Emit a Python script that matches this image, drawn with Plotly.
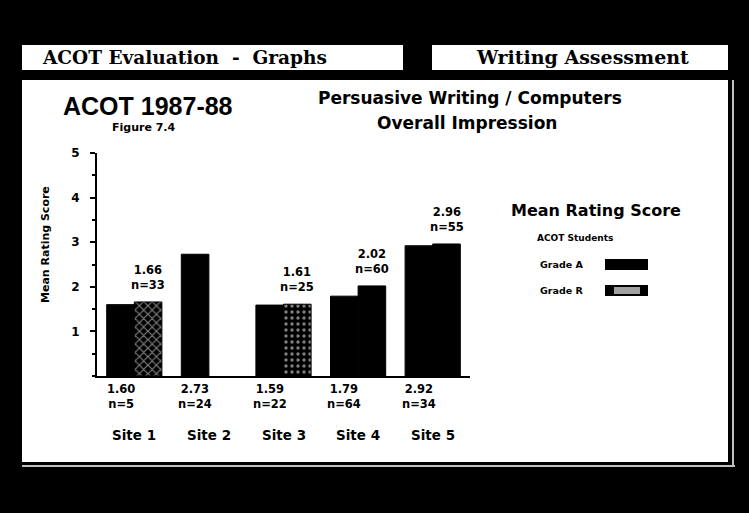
import plotly.graph_objects as go

# ---- data ----
sites = ["Site 1", "Site 2", "Site 3", "Site 4", "Site 5"]
grade_a = [1.60, 2.73, 1.59, 1.79, 2.92]
n_a = [5, 24, 22, 64, 34]
grade_r = [1.66, None, 1.61, 2.02, 2.96]
n_r = [33, None, 25, 60, 55]
y_ticks = [1, 2, 3, 4, 5]

W, H = 749, 513
L, R, T, B = 97, 470, 153, 376  # plot area in pixels


def px(x):
    return (x - L) / (R - L)


def py(y):
    return (B - y) / (B - T)


SANS = "DejaVu Sans"
SERIF = "DejaVu Serif"

fig = go.Figure()
fig.add_trace(go.Bar(
    x=sites, y=grade_a, name="Grade A",
    marker=dict(color="black", line=dict(color="black", width=1)),
))
fig.add_trace(go.Bar(
    x=sites, y=grade_r, name="Grade R",
    marker=dict(
        color="black", line=dict(color="black", width=1),
        pattern=dict(shape=["x", "", ".", "", ""],
                     bgcolor="black", fgcolor="white",
                     size=6, solidity=[0.35, 0.3, 0.25, 0.3, 0.3]),
    ),
))

shapes = []
# white panel and header boxes
shapes.append(dict(type="rect", xref="paper", yref="paper", layer="below",
                   x0=px(22), x1=px(728), y0=py(462), y1=py(80),
                   fillcolor="white", line=dict(width=0)))
shapes.append(dict(type="rect", xref="paper", yref="paper", layer="below",
                   x0=px(22), x1=px(403), y0=py(70), y1=py(45),
                   fillcolor="white", line=dict(width=0)))
shapes.append(dict(type="rect", xref="paper", yref="paper", layer="below",
                   x0=px(432), x1=px(728), y0=py(70), y1=py(45),
                   fillcolor="white", line=dict(width=0)))
# double border remnants
shapes.append(dict(type="line", xref="paper", yref="paper", layer="below",
                   x0=px(733), x1=px(733), y0=py(465), y1=py(80),
                   line=dict(color="white", width=1.5)))
shapes.append(dict(type="line", xref="paper", yref="paper", layer="below",
                   x0=px(22), x1=px(735), y0=py(466), y1=py(466),
                   line=dict(color="white", width=1.5)))
# legend swatches
shapes.append(dict(type="rect", xref="paper", yref="paper",
                   x0=px(605), x1=px(648), y0=py(270), y1=py(259),
                   fillcolor="black", line=dict(width=0)))
shapes.append(dict(type="rect", xref="paper", yref="paper",
                   x0=px(605), x1=px(648), y0=py(296), y1=py(285),
                   fillcolor="black", line=dict(width=0)))
shapes.append(dict(type="rect", xref="paper", yref="paper",
                   x0=px(614), x1=px(640), y0=py(294), y1=py(287),
                   fillcolor="#a0a0a0", line=dict(width=0)))

ann = []


def text(x, y, s, size, family=SANS, xanchor="center", angle=0):
    ann.append(dict(x=px(x), y=py(y), xref="paper", yref="paper", text=s,
                    showarrow=False, xanchor=xanchor, yanchor="middle",
                    textangle=angle,
                    font=dict(family=family, size=size, color="black",
                              weight="bold")))


text(40, 57, "ACOT Evaluation  -  Graphs", 18.5, SERIF, xanchor="left")
text(582, 57, "Writing Assessment", 19, SERIF)
text(148, 106, "ACOT 1987-88", 25, "Liberation Sans")
text(144, 127, "Figure 7.4", 11)
text(470, 98, "Persuasive Writing / Computers", 17)
text(467, 123, "Overall Impression", 17)
text(45, 244, "Mean Rating Score", 11, angle=-90)
text(596, 210, "Mean Rating Score", 16)
text(575, 238, "ACOT Students", 9)
text(538, 264, "Grade A", 9.5, xanchor="left")
text(538, 290, "Grade R", 9.5, xanchor="left")

off = 0.185
for i, s in enumerate(sites):
    ann.append(dict(x=i - off, y=0, xref="x", yref="y", yanchor="top",
                    yshift=-4, showarrow=False,
                    text=f"{grade_a[i]:.2f}<br>n={n_a[i]}",
                    font=dict(family=SANS, size=11.5, color="black", weight="bold")))
    ann.append(dict(x=i, y=py(435), xref="x", yref="paper", yanchor="middle",
                    showarrow=False, text=s,
                    font=dict(family=SANS, size=13.5, color="black", weight="bold")))
    if grade_r[i] is not None:
        ann.append(dict(x=i + off, y=grade_r[i], xref="x", yref="y",
                        yanchor="bottom", yshift=8, showarrow=False,
                        text=f"{grade_r[i]:.2f}<br>n={n_r[i]}",
                        font=dict(family=SANS, size=11.5, color="black",
                                  weight="bold")))

fig.update_layout(
    width=W, height=H,
    margin=dict(l=L, r=W - R, t=T, b=H - B, pad=0),
    paper_bgcolor="black", plot_bgcolor="white",
    barmode="group", bargap=0.26, bargroupgap=0,
    showlegend=False,
    shapes=shapes, annotations=ann,
    xaxis=dict(range=[-0.5, 4.5], showticklabels=False, ticks="",
               showline=True, linecolor="black", linewidth=2,
               showgrid=False, zeroline=False, fixedrange=True),
    yaxis=dict(range=[0, 5], tickvals=y_ticks, ticks="outside", ticklen=5,
               tickwidth=2, tickcolor="black", showline=True,
               linecolor="black", linewidth=2, showgrid=False,
               zeroline=False, ticklabelstandoff=8,
               tickfont=dict(family=SANS, size=12, color="black",
                             weight="bold"),
               minor=dict(dtick=0.5, ticks="outside", ticklen=3,
                          tickwidth=2, tickcolor="black", showgrid=False),
               fixedrange=True),
)

fig.write_html(
    "out.html",
    config={"displayModeBar": False},
    post_script="document.body.style.margin='0';"
                "document.body.style.background='black';",
)
